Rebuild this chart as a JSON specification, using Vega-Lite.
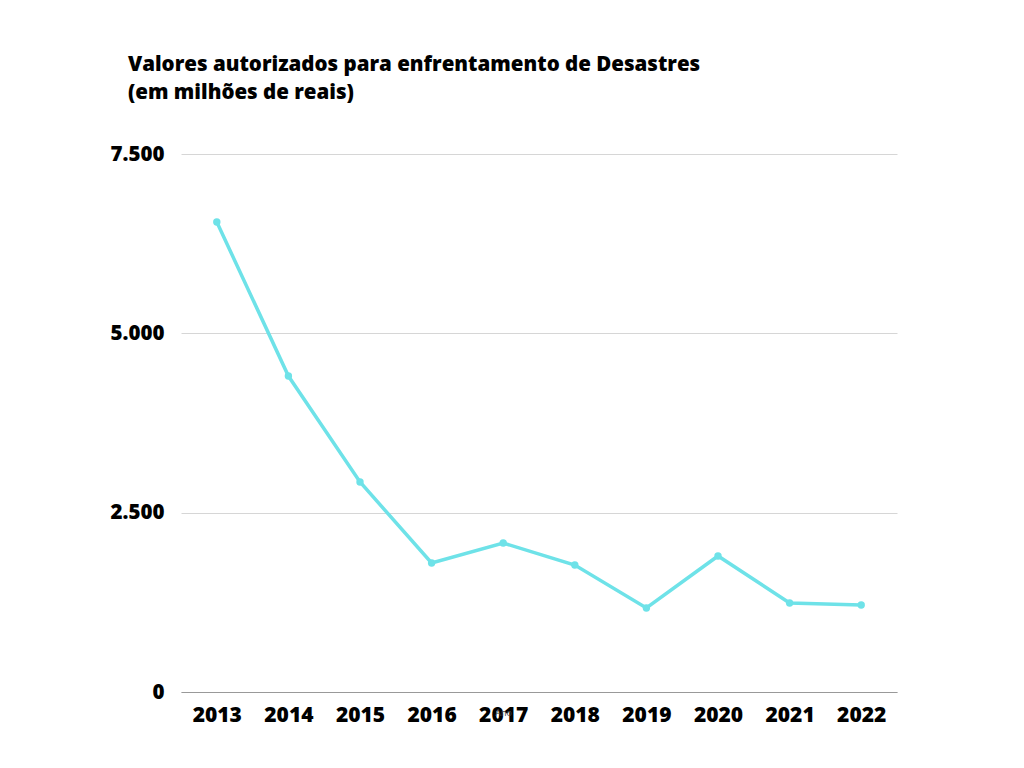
{
  "$schema": "https://vega.github.io/schema/vega-lite/v6.json",
  "width": 716,
  "height": 538,
  "autosize": "none",
  "padding": {"left": 181, "top": 154, "right": 127, "bottom": 76},
  "background": "white",
  "title": {
    "text": ["Valores autorizados para enfrentamento de Desastres", "\u2003(em milhões de reais)"],
    "anchor": "start",
    "frame": "group",
    "dx": -53,
    "offset": 41,
    "font": "Open Sans",
    "fontSize": 20.5,
    "fontWeight": 800,
    "color": "#000000",
    "lineHeight": 28
  },
  "data": {
    "values": [
      {"ano": "2013", "valor": 6552},
      {"ano": "2014", "valor": 4405},
      {"ano": "2015", "valor": 2928},
      {"ano": "2016", "valor": 1798},
      {"ano": "2017", "valor": 2077},
      {"ano": "2018", "valor": 1770},
      {"ano": "2019", "valor": 1171},
      {"ano": "2020", "valor": 1896},
      {"ano": "2021", "valor": 1241},
      {"ano": "2022", "valor": 1213}
    ]
  },
  "encoding": {
    "x": {
      "field": "ano",
      "type": "ordinal",
      "scale": {"type": "point", "padding": 0.5},
      "axis": {
        "title": "Ano",
        "titleFont": "Open Sans",
        "titleFontSize": 9,
        "titleFontWeight": "normal",
        "titleColor": "#444444",
        "titleX": 322,
        "titleY": 16,
        "labelAngle": 0,
        "labelFont": "Open Sans",
        "labelFontSize": 21,
        "labelFontWeight": 800,
        "labelColor": "#000000",
        "labelPadding": 12,
        "ticks": false,
        "domain": true,
        "domainColor": "#999999",
        "domainWidth": 1,
        "grid": false
      }
    },
    "y": {
      "field": "valor",
      "type": "quantitative",
      "scale": {"domain": [0, 7500], "nice": false},
      "axis": {
        "title": null,
        "values": [0, 2500, 5000, 7500],
        "labelExpr": "replace(format(datum.value, ','), ',', '.')",
        "labelFont": "Open Sans",
        "labelFontSize": 20.5,
        "labelFontWeight": 800,
        "labelColor": "#000000",
        "labelPadding": 17,
        "ticks": false,
        "domain": false,
        "grid": true,
        "gridColor": "#d6d6d6",
        "gridWidth": 1
      }
    }
  },
  "layer": [
    {
      "mark": {"type": "line", "color": "#6ee2e8", "strokeWidth": 3.5}
    },
    {
      "mark": {"type": "point", "filled": true, "color": "#6ee2e8", "size": 55, "opacity": 1}
    }
  ],
  "config": {
    "view": {"stroke": null}
  }
}
